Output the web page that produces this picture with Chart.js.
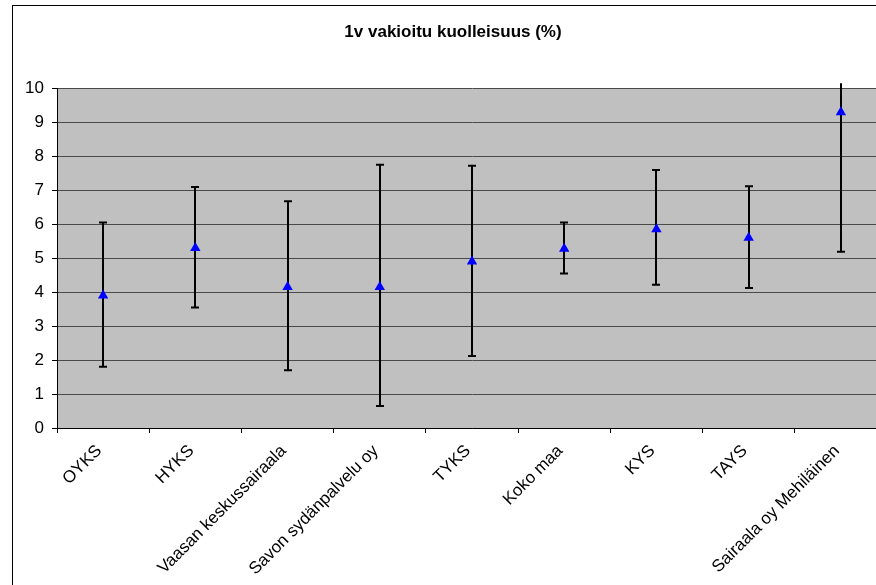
<!DOCTYPE html>
<html>
<head>
<meta charset="utf-8">
<script src="https://cdn.jsdelivr.net/npm/chart.js@4/dist/chart.umd.min.js"></script>
<style>
  html, body { margin: 0; padding: 0; background: #fff; overflow: hidden; width: 876px; height: 585px; }
  #frame { position: absolute; left: 12px; top: 5px; width: 900px; height: 620px; border: 1px solid #000; }
  #wrap { position: absolute; left: 0; top: 0; width: 880px; height: 600px; }
</style>
</head>
<body>
<div id="frame"><div id="wrap"><canvas id="mortChart"></canvas></div></div>
<script>
let hospitals = ['OYKS', 'HYKS', 'Vaasan keskussairaala', 'Savon sydänpalvelu oy', 'TYKS', 'Koko maa', 'KYS', 'TAYS', 'Sairaala oy Mehiläinen'];
let mortality = [3.9, 5.3, 4.15, 4.15, 4.9, 5.28, 5.85, 5.6, 9.3];
let lowerCI = [1.8, 3.55, 1.7, 0.65, 2.12, 4.55, 4.22, 4.12, 5.19];
let upperCI = [6.05, 7.1, 6.68, 7.75, 7.72, 6.05, 7.6, 7.12, 10.15];
let yTicks = [0, 1, 2, 3, 4, 5, 6, 7, 8, 9, 10];

// grey plot area like the old excel chart
const plotBg = {
  id: 'plotBg',
  beforeDraw(chart) {
    let a = chart.chartArea;
    let ctx = chart.ctx;
    ctx.save();
    ctx.fillStyle = '#c0c0c0';
    ctx.fillRect(a.left, a.top, a.right - a.left, a.bottom - a.top);
    ctx.restore();
  }
};

// error bars from lowerCI / upperCI
const errorBars = {
  id: 'errorBars',
  beforeDatasetsDraw(chart) {
    let ctx = chart.ctx;
    let y = chart.scales.y;
    let meta = chart.getDatasetMeta(0);
    ctx.save();
    ctx.strokeStyle = '#000';
    ctx.lineWidth = 2;
    meta.data.forEach((pt, i) => {
      let x = Math.round(pt.x);
      let yl = y.getPixelForValue(lowerCI[i]);
      let yh = y.getPixelForValue(upperCI[i]);
      ctx.beginPath();
      ctx.moveTo(x, yl);
      ctx.lineTo(x, yh);
      ctx.moveTo(x - 4, yl);
      ctx.lineTo(x + 4, yl);
      if (upperCI[i] <= 10) {
        ctx.moveTo(x - 4, yh);
        ctx.lineTo(x + 4, yh);
      }
      ctx.stroke();
    });
    ctx.restore();
  }
};

new Chart(document.getElementById('mortChart'), {
  type: 'line',
  data: {
    labels: hospitals,
    datasets: [{
      label: '1v vakioitu kuolleisuus (%)',
      data: mortality,
      showLine: false,
      pointStyle: 'triangle',
      pointRadius: 6,
      pointBackgroundColor: '#0000ff',
      pointBorderColor: '#0000ff',
      pointBorderWidth: 0
    }]
  },
  options: {
    responsive: true,
    maintainAspectRatio: false,
    animation: false,
    layout: { padding: { left: 0, right: 0, top: 0, bottom: 0 } },
    plugins: {
      legend: { display: false },
      tooltip: { enabled: false },
      title: {
        display: true,
        text: '1v vakioitu kuolleisuus (%)',
        color: '#000',
        font: { family: 'Liberation Sans, Arial, sans-serif', size: 17, weight: 'bold' },
        padding: { top: 16, bottom: 46 }
      }
    },
    scales: {
      x: {
        offset: true,
        afterFit(scale) { scale.height = 178; },
        grid: { offset: true, drawOnChartArea: false, color: '#000', tickLength: 5, tickWidth: 1 },
        border: { color: '#000', width: 1 },
        ticks: {
          color: '#000',
          minRotation: 45,
          maxRotation: 45,
          padding: 8,
          labelOffset: -4,
          autoSkip: false,
          font: { family: 'Liberation Sans, Arial, sans-serif', size: 17 }
        }
      },
      y: {
        min: 0,
        max: 10,
        afterFit(scale) { scale.width = 44; },
        afterBuildTicks(scale) { scale.ticks = yTicks.map(v => ({ value: v })); },
        grid: { color: '#4a4a4a', lineWidth: 1, tickLength: 5, tickColor: '#000' },
        border: { color: '#000', width: 1 },
        ticks: {
          color: '#000',
          padding: 8,
          font: { family: 'Liberation Sans, Arial, sans-serif', size: 17 }
        }
      }
    }
  },
  plugins: [plotBg, errorBars]
});
</script>
</body>
</html>
